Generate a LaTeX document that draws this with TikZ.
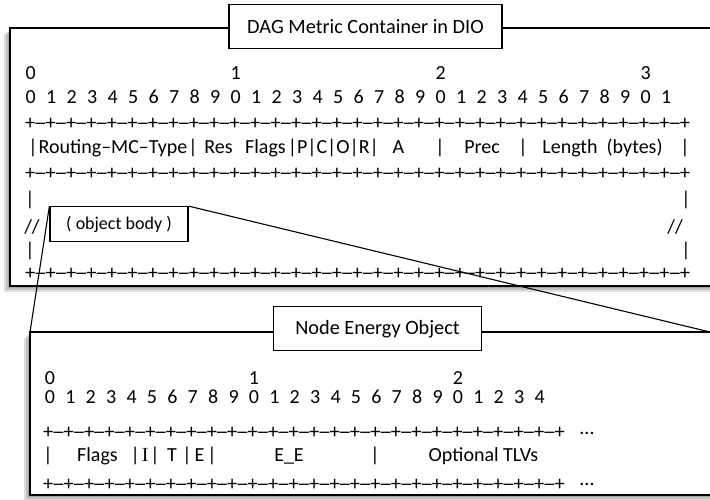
\documentclass[tikz,border=0pt]{standalone}
\usepackage{graphicx}
\usepackage{fontspec}
\setmainfont{Carlito}
\newfontfamily\serifI{Liberation Serif}

\newcommand\bitdash{\makebox[0.5em]{\scalebox{1.35}[1]{\textendash}}}

\tikzset{
  dagframe/.style={line width=1.4pt},
  tagbox/.style={draw, line width=1.3pt, fill=white, inner sep=0pt, font=\fontsize{20.3}{24}\selectfont},
  glyph/.style={inner sep=0pt, anchor=base, font=\fontsize{20}{24}\selectfont},
  rulerow/.style={inner sep=0pt, anchor=base west, font=\fontsize{20.5}{24}\selectfont},
  link/.style={line width=1.1pt},
}

\begin{document}
\begin{tikzpicture}[x=1pt,y=-1pt]
	\useasboundingbox (0,0) rectangle (710,499);

	% DAG Metric Container frame
	\foreach \s in {2,4,6} {
		\fill[black,opacity=0.13] (10-\s,28+\s) rectangle (710,286+\s);
	}
	\fill[white] (10,28) rectangle (710,286);
	\draw[dagframe] (710,28) -- (10,28) -- (10,286) -- (710,286);

	\foreach \d in {0,...,3} {
		\node[glyph] (decT\d) at (30.7+205*\d,79.3) {\d};
	}
	\foreach \i in {0,...,31} {
		\pgfmathtruncatemacro\d{mod(\i,10)}
		\node[glyph] (bitT\i) at (30.7+20.5*\i,103.3) {\d};
	}
	\foreach \rw/\y in {a/129.5,b/179.5,c/279.5} {
		\node[rulerow] (rule\rw) at (24.9,\y) {+\foreach \i in {1,...,32}{\bitdash+}};
	}

	% field row
	\foreach \x [count=\i] in {33,193,440,523,685} {
		\node[glyph] (barT\i) at (\x,153.5) {|};
	}
	\node[glyph] (mctype) at (113,153.5) {Routing\textendash MC\textendash Type};
	\node[glyph] (res) at (218.5,153.5) {Res};
	\node[glyph] (flagsT) at (265.5,153.5) {Flags};
	\node[glyph, anchor=base west] (pcor) at (287.6,153.5) {|P|C|O|R|};
	\node[glyph] (fldA) at (398.5,153.5) {A};
	\node[glyph] (prec) at (482,153.5) {Prec};
	\node[glyph] (len) at (602.5,153.5) {Length~~(bytes)};

	% body rows
	\node[glyph] (bodyL1) at (30,205.5) {|};
	\node[glyph] (bodyR1) at (686,205.5) {|};
	\node[glyph] (cutL) at (32,233.5) {//};
	\node[glyph] (cutR) at (675,233.5) {//};
	\node[glyph] (bodyL2) at (30,256) {|};
	\node[glyph] (bodyR2) at (686,256) {|};

	% Node Energy Object frame
	\foreach \s in {2,4,6} {
		\fill[black,opacity=0.13] (30-\s,332+\s) rectangle (710,495+\s);
	}
	\fill[white] (30,332) rectangle (710,495);
	\draw[dagframe] (710,332) -- (30,332) -- (30,495) -- (710,495);

	\foreach \d in {0,...,2} {
		\node[glyph] (decB\d) at (50+204*\d,384.3) {\d};
	}
	\foreach \i in {0,...,24} {
		\pgfmathtruncatemacro\d{mod(\i,10)}
		\node[glyph] (bitB\i) at (50+20.4*\i,403.3) {\d};
	}
	\foreach \rw/\y in {d/438.3,e/490.3} {
		\node[rulerow] (rule\rw) at (42.9,\y) {+\foreach \i in {1,...,25}{\bitdash+}};
	}
	\node[glyph] (moreA) at (587,434) {...};
	\node[glyph] (moreB) at (587,485.5) {...};

	\foreach \x [count=\i] in {48,187,212,375} {
		\node[glyph] (barB\i) at (\x,461) {|};
	}
	\node[glyph] (flagsB) at (97.5,461) {Flags};
	\node[glyph, anchor=base west] (fldI) at (130.4,461) {|\hspace{2pt}{\serifI I}\hspace{2pt}|};
	\node[glyph] (fldT) at (172,461) {T};
	\node[glyph] (fldE) at (199.5,461) {E};
	\node[glyph] (fldEE) at (289,461) {E\_E};
	\node[glyph] (tlvs) at (483.5,461) {Optional TLVs};

	% titles
	\node[tagbox, minimum width=273pt, minimum height=44pt] (dagtitle) at (365.5,26.3) {DAG Metric Container in DIO};
	\node[tagbox, minimum width=208.5pt, minimum height=44pt] (neotitle) at (377.5,328.7) {Node Energy Object};

	% object body and zoom lines
	\node[draw, line width=1.2pt, minimum width=138pt, minimum height=35pt, inner sep=0pt, font=\fontsize{18}{20}\selectfont] (body) at (119,224.2) {( object body )};
	\coordinate (neoNW) at (30,332);
	\coordinate (neoNE) at (710,332);
	\draw[link] (body.north west) -- (neoNW);
	\draw[link] (body.north east) -- (neoNE);
\end{tikzpicture}
\end{document}
